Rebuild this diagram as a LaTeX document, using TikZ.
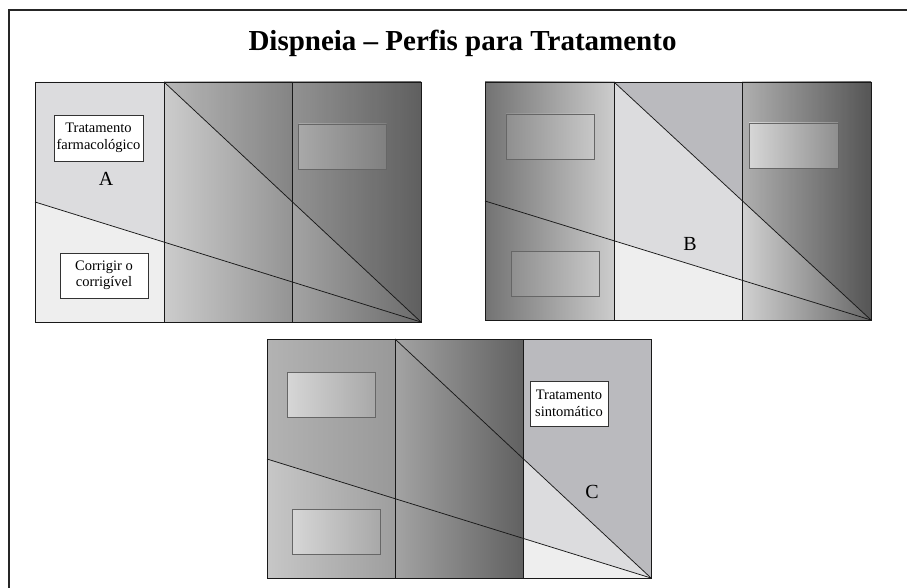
\documentclass[tikz,border=0pt]{standalone}
\usepackage{fontspec}
\setmainfont{Liberation Serif}
\definecolor{lt}{HTML}{EEEEEE}
\definecolor{md}{HTML}{DCDCDE}
\definecolor{mg}{HTML}{BABABE}
\begin{document}
\begin{tikzpicture}[x=1pt,y=-1pt,line join=miter,
  edge/.style={draw=black!90,line width=0.75pt},
  wbox/.style={draw=black!80,fill=white,line width=0.7pt,align=center,inner sep=0pt,
    font=\fontsize{14.5}{16.5}\selectfont},
  gbox/.style={draw=black!60,line width=0.7pt,inner sep=0pt,minimum width=88pt,minimum height=45pt},
  letter/.style={font=\fontsize{20}{20}\selectfont,inner sep=0pt}]
\useasboundingbox (0,0) rectangle (907,588);
\fill[white] (0,0) rectangle (907,588);
% frame
\coordinate (fBL) at (9,588); \coordinate (fTL) at (9,10); \coordinate (fTR) at (907,10);
\draw[line width=1.2pt,black!85] (fBL) -- (fTL) -- (fTR);
\node[font=\bfseries\fontsize{29}{30}\selectfont,anchor=base,inner sep=0pt] (title) at (462.5,51) {Dispneia – Perfis para Tratamento};

% ================= Panel A =================
\coordinate (A1) at (35,82); \coordinate (A2) at (164,82); \coordinate (A3) at (292,82); \coordinate (A4) at (421,82);
\coordinate (A5) at (35,322); \coordinate (A6) at (164,322); \coordinate (A7) at (292,322); \coordinate (A8) at (421,322);
\coordinate (AL) at (35,202); \coordinate (Al2) at (164,242.1); \coordinate (Ad3) at (292,201.5);
\fill[md] (A1) -- (A2) -- (Al2) -- (AL) -- cycle;
\fill[lt] (AL) -- (Al2) -- (A6) -- (A5) -- cycle;
\shade[left color=black!20,right color=black!42] (A2) rectangle (A7);
\shade[left color=black!36,right color=black!58] (A3) rectangle (A8);
\fill[black,opacity=.1] (A2) -- (A4) -- (A8) -- cycle;
\draw[edge] (A2) -- (A6); \draw[edge] (A3) -- (A7);
\draw[edge] (A2) -- (A8); \draw[edge] (AL) -- (A8);
\draw[edge] (A1) -- (A4) -- (A8) -- (A5) -- cycle;
\node[wbox,minimum width=89pt,minimum height=46pt] (Atf) at (98.5,138) {Tratamento\\farmacológico};
\node[wbox,minimum width=88pt,minimum height=45pt] (Acc) at (104,275.5) {Corrigir o\\corrigível};
\node[gbox,left color=black!34,right color=black!50] (Ag1) at (342.5,146.5) {};
\node[letter] (Alab) at (106,179) {A};

% ================= Panel B =================
\coordinate (B1) at (485,82); \coordinate (B2) at (614,82); \coordinate (B3) at (742,82); \coordinate (B4) at (871,82);
\coordinate (B5) at (485,320); \coordinate (B6) at (614,320); \coordinate (B7) at (742,320); \coordinate (B8) at (871,320);
\coordinate (BL) at (485,201); \coordinate (Bl2) at (614,240.8); \coordinate (Bl3) at (742,280.2); \coordinate (Bd3) at (742,200.5);
\shade[left color=black!55,right color=black!20] (B1) rectangle (B6);
\fill[mg] (B2) -- (B3) -- (Bd3) -- cycle;
\fill[md] (B2) -- (Bd3) -- (Bl3) -- (Bl2) -- cycle;
\fill[lt] (Bl2) -- (Bl3) -- (B7) -- (B6) -- cycle;
\shade[left color=black!18,right color=black!60] (B3) rectangle (B8);
\fill[black,opacity=.16] (B3) -- (B4) -- (B8) -- (Bd3) -- cycle;
\draw[edge] (B2) -- (B6); \draw[edge] (B3) -- (B7);
\draw[edge] (B2) -- (B8); \draw[edge] (BL) -- (B8);
\draw[edge] (B1) -- (B4) -- (B8) -- (B5) -- cycle;
\node[gbox,left color=black!44,right color=black!22] (Bg1) at (550,136.5) {};
\node[gbox,left color=black!44,right color=black!22] (Bg2) at (555,273.5) {};
\node[gbox,minimum width=89pt,left color=black!16,right color=black!44] (Bg3) at (793.5,145.5) {};
\node[letter] (Blab) at (690,244) {B};

% ================= Panel C =================
\coordinate (C1) at (267,339); \coordinate (C2) at (395,339); \coordinate (C3) at (523,339); \coordinate (C4) at (651,339);
\coordinate (C5) at (267,578); \coordinate (C6) at (395,578); \coordinate (C7) at (523,578); \coordinate (C8) at (651,578);
\coordinate (CL) at (267,459); \coordinate (Cl2) at (395,498.7); \coordinate (Cl3) at (523,538.3); \coordinate (Cd3) at (523,458.5);
\shade[left color=black!22,right color=black!38] (CL) rectangle (C6);
\shade[left color=black!30,right color=black!40] (C1) -- (C2) -- (Cl2) -- (CL) -- cycle;
\shade[left color=black!36,right color=black!62] (C2) rectangle (C7);
\fill[mg] (C3) -- (C4) -- (C8) -- (Cd3) -- cycle;
\fill[md] (Cd3) -- (C8) -- (Cl3) -- cycle;
\fill[lt] (Cl3) -- (C8) -- (C7) -- cycle;
\draw[edge] (C2) -- (C6); \draw[edge] (C3) -- (C7);
\draw[edge] (C2) -- (C8); \draw[edge] (CL) -- (C8);
\draw[edge] (C1) -- (C4) -- (C8) -- (C5) -- cycle;
\node[gbox,left color=black!16,right color=black!34] (Cg1) at (331,394.5) {};
\node[gbox,left color=black!16,right color=black!34] (Cg2) at (336,531.5) {};
\node[wbox,minimum width=78pt,minimum height=45pt] (Cts) at (569,403.5) {Tratamento\\sintomático};
\node[letter] (Clab) at (592,492) {C};
\end{tikzpicture}
\end{document}
